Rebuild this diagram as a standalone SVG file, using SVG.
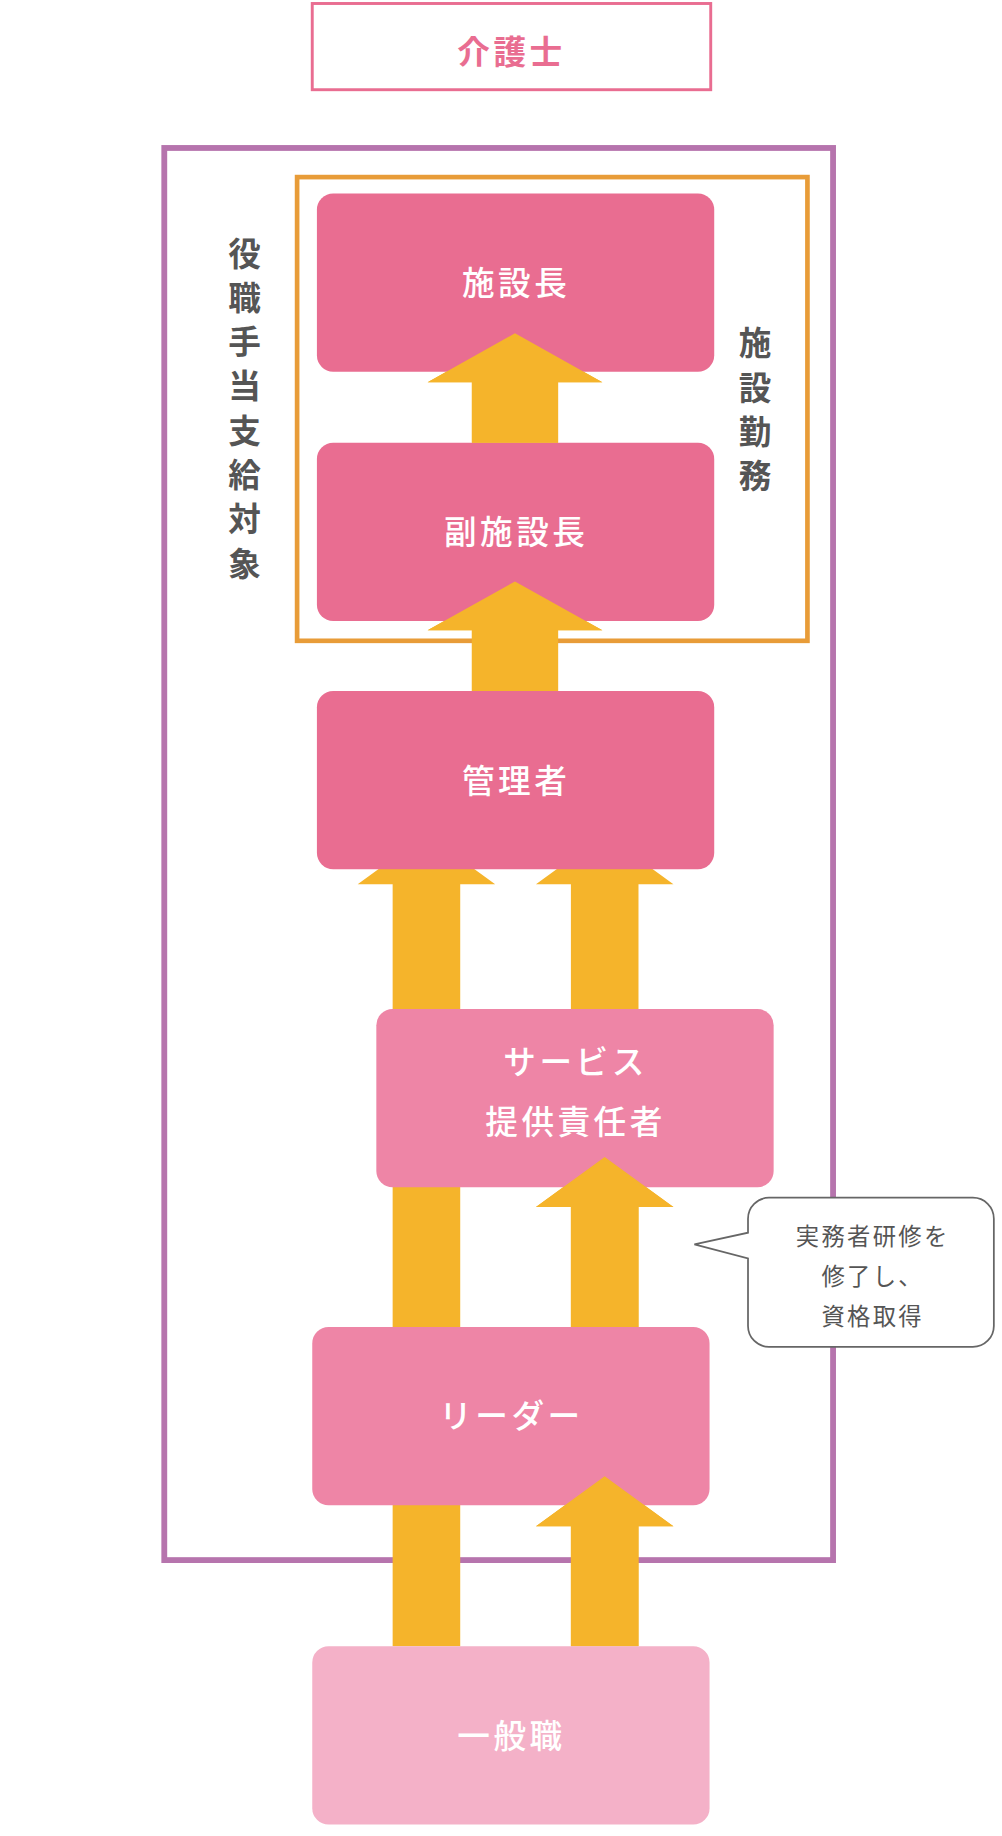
<svg xmlns="http://www.w3.org/2000/svg" width="1002" height="1836" viewBox="0 0 1002 1836">
<style>
text{font-family:"Noto Sans CJK JP","Noto Sans",sans-serif;text-anchor:middle}
.nt{fill:#fff;font-size:28px;font-weight:500;letter-spacing:3px}
.vt{fill:#555;font-size:28px;font-weight:700}
.ar{fill:#f5b42b}
.bt{fill:#555;font-size:20px;letter-spacing:2px}
</style>
<rect width="1002" height="1836" fill="#fff"/>
<g transform="scale(1.16512)">
<g id="title"><rect x="268" y="3" width="342" height="74" fill="#fff" stroke="#e96d91" stroke-width="2.5"/><text x="439" y="55" fill="#e96d91" font-size="28" font-weight="700" style="letter-spacing:3px">介護士</text></g>
<g id="frame-allowance"><rect x="141" y="127" width="574" height="1212" fill="none" stroke="#b674ad" stroke-width="5"/>
<text class="vt" x="210" y="228">役</text><text class="vt" x="210" y="266">職</text><text class="vt" x="210" y="304">手</text><text class="vt" x="210" y="342">当</text><text class="vt" x="210" y="380">支</text><text class="vt" x="210" y="418">給</text><text class="vt" x="210" y="456">対</text><text class="vt" x="210" y="494">象</text></g>
<g id="frame-facility"><rect x="255" y="152" width="438" height="398" fill="none" stroke="#e89c38" stroke-width="4"/>
<text class="vt" x="648" y="305">施</text><text class="vt" x="648" y="343">設</text><text class="vt" x="648" y="381">勤</text><text class="vt" x="648" y="419">務</text></g>
<g id="connectors">
<polygon class="ar" points="337,1413 337,759 307,759 366,716 425,759 395,759 395,1413"/>
<polygon class="ar" points="490,866 490,759 460,759 519,716 578,759 548,759 548,866"/>
<polygon class="ar" points="490,1139 490,1036 460,1036 519,993 578,1036 548,1036 548,1139"/>
<polygon class="ar" points="490,1413 490,1310 460,1310 519,1267 578,1310 548,1310 548,1413"/>
<polygon class="ar" points="405,380 405,328 367,328 442,286 517,328 479,328 479,380"/>
<polygon class="ar" points="405,593 405,541 367,541 442,499 517,541 479,541 479,593"/>
</g>
<g id="n1"><rect x="272" y="166" width="341" height="153" rx="14" fill="#e96d91"/><text class="nt" x="443" y="253">施設長</text></g>
<g id="n2"><rect x="272" y="380" width="341" height="153" rx="14" fill="#e96d91"/><text class="nt" x="443" y="467">副施設長</text></g>
<polygon class="ar" points="405,593 405,541 367,541 442,499 517,541 479,541 479,593"/>
<polygon class="ar" points="405,380 405,328 367,328 442,286 517,328 479,328 479,380"/>
<g id="n3"><rect x="272" y="593" width="341" height="153" rx="14" fill="#e96d91"/><text class="nt" x="443" y="681">管理者</text></g>
<g id="n4"><rect x="323" y="866" width="341" height="153" rx="14" fill="#ee85a6"/><text class="nt" x="494" y="922">サービス</text><text class="nt" x="494" y="973">提供責任者</text></g>
<polygon class="ar" points="490,1139 490,1036 460,1036 519,993 578,1036 548,1036 548,1139"/>
<g id="n5"><rect x="268" y="1139" width="341" height="153" rx="14" fill="#ee85a6"/><text class="nt" x="439" y="1226">リーダー</text></g>
<polygon class="ar" points="490,1413 490,1310 460,1310 519,1267 578,1310 548,1310 548,1413"/>
<g id="n6"><rect x="268" y="1413" width="341" height="153" rx="14" fill="#f4b1c8"/><text class="nt" x="439" y="1500">一般職</text></g>
<g id="note"><path d="M660,1028 H835 A18,18 0 0 1 853,1046 V1138 A18,18 0 0 1 835,1156 H660 A18,18 0 0 1 642,1138 V1080 L596,1068 L642,1058 V1046 A18,18 0 0 1 660,1028 Z" fill="#fff" stroke="#666" stroke-width="1.5"/>
<text class="bt" x="749" y="1069">実務者研修を</text><text class="bt" x="749" y="1103">修了し、</text><text class="bt" x="749" y="1137">資格取得</text></g>
</g>
</svg>
